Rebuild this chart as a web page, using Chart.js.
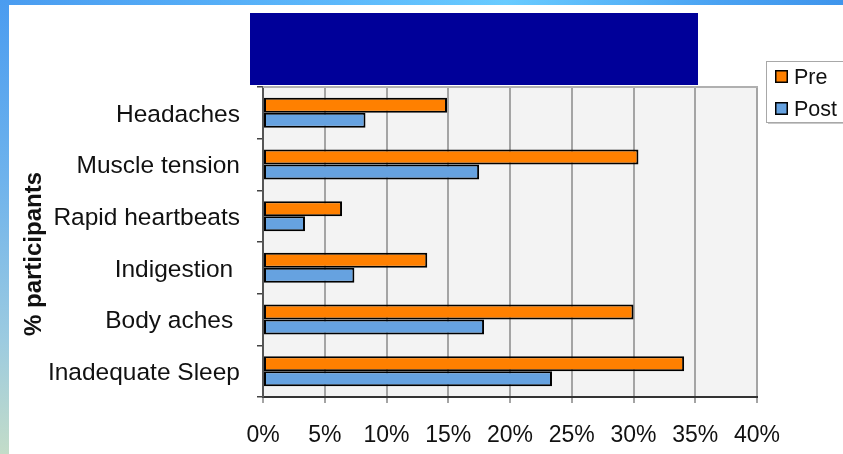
<!DOCTYPE html>
<html>
<head>
<meta charset="utf-8">
<script src="https://cdn.jsdelivr.net/npm/chart.js@4/dist/chart.umd.min.js"></script>
<style>
  html, body { margin: 0; padding: 0; background: #fff; }
  #stage { position: relative; width: 843px; height: 454px; overflow: hidden; background: #fff; }
  #topband { position: absolute; left: 0; top: 0; width: 843px; height: 5px;
    background: linear-gradient(90deg, #4a9cf0 0%, #5cb8fb 40%, #68cbff 60%, #4aa2f2 85%, #3f95ec 100%); }
  #leftband { position: absolute; left: 0; top: 0; width: 9px; height: 454px;
    background: linear-gradient(180deg, #4a9cf0 0%, #6fb3ec 40%, #9ccbe0 75%, #c3dcc8 100%); }
  #banner { position: absolute; left: 250px; top: 13px; width: 448px; height: 72px; background: #000099; }
  #chart { position: absolute; left: 0; top: 0; }
</style>
</head>
<body>
<div id="stage">
  <div id="topband"></div>
  <div id="leftband"></div>
  <div id="banner"></div>
  <canvas id="chart" width="843" height="454"></canvas>
</div>
<script>
// Symptoms reported, share of participants before and after the programme
const categories = ['Headaches', 'Muscle tension', 'Rapid heartbeats', 'Indigestion ', 'Body aches ', 'Inadequate Sleep'];
const preValues  = [14.9, 30.4, 6.4, 13.3, 30.0, 34.1];
const postValues = [8.3, 17.5, 3.4, 7.4, 17.9, 23.4];
const seriesNames = ['Pre', 'Post'];
const yAxisTitle = '% participants';
const xTickStep = 5;
const xMax = 40;

const FONT = '"Liberation Sans", Arial, Helvetica, sans-serif';
const PRE_COLOR = '#ff8000';
const POST_COLOR = '#66a2e0';

// Grey plot background, top border, rotated axis title and boxed legend
const plotFrame = {
  id: 'plotFrame',
  beforeDraw(chart) {
    const { ctx, chartArea: a } = chart;
    ctx.save();
    ctx.fillStyle = '#f3f3f3';
    ctx.fillRect(a.left, a.top, a.right - a.left, a.bottom - a.top);
    ctx.restore();
  },
  afterDraw(chart) {
    const { ctx, chartArea: a } = chart;
    ctx.save();
    ctx.strokeStyle = '#b0b0b0';
    ctx.lineWidth = 2;
    ctx.beginPath();
    ctx.moveTo(a.left, a.top);
    ctx.lineTo(a.right + 1, a.top);
    ctx.stroke();

    // axis title, set a little below the plot's middle
    ctx.save();
    ctx.translate(34, 254);
    ctx.rotate(-Math.PI / 2);
    ctx.fillStyle = '#111';
    ctx.font = 'bold 24px ' + FONT;
    ctx.textAlign = 'center';
    ctx.textBaseline = 'middle';
    ctx.fillText(yAxisTitle, 0, 0);
    ctx.restore();

    // legend box
    const lx = 766, ly = 61, lw = 90, lh = 61;
    ctx.fillStyle = '#c8c8c8';
    ctx.fillRect(lx + 2, ly + 2, lw, lh);
    ctx.fillStyle = '#ffffff';
    ctx.fillRect(lx, ly, lw, lh);
    ctx.strokeStyle = '#a8a8a8';
    ctx.lineWidth = 1;
    ctx.strokeRect(lx + 0.5, ly + 0.5, lw, lh);

    chart.data.datasets.forEach((ds, i) => {
      const sy = 70 + i * 32;
      ctx.fillStyle = ds.backgroundColor;
      ctx.fillRect(775, sy, 13, 13);
      ctx.strokeStyle = '#000';
      ctx.lineWidth = 1.5;
      ctx.strokeRect(775.75, sy + 0.75, 11.5, 11.5);
      ctx.fillStyle = '#111';
      ctx.font = '21.5px ' + FONT;
      ctx.textBaseline = 'middle';
      ctx.textAlign = 'left';
      ctx.fillText(ds.label, 794, sy + 8);
    });
    ctx.restore();
  }
};

new Chart(document.getElementById('chart'), {
  type: 'bar',
  data: {
    labels: categories,
    datasets: [
      { label: seriesNames[0], data: preValues, backgroundColor: PRE_COLOR,
        borderColor: '#000', borderWidth: 2, borderSkipped: false },
      { label: seriesNames[1], data: postValues, backgroundColor: POST_COLOR,
        borderColor: '#000', borderWidth: 2, borderSkipped: false }
    ]
  },
  options: {
    indexAxis: 'y',
    responsive: false,
    animation: false,
    devicePixelRatio: 1,
    categoryPercentage: 0.58,
    barPercentage: 1.0,
    layout: { padding: { top: 87, right: 86, left: 16, bottom: 0 } },
    plugins: {
      legend: { display: false },
      title: { display: false },
      tooltip: { enabled: false }
    },
    scales: {
      x: {
        min: 0,
        max: xMax,
        ticks: {
          stepSize: xTickStep,
          color: '#111',
          padding: 19,
          font: { family: FONT, size: 23 },
          callback: (v) => v + '%'
        },
        grid: { color: '#a4a4a4', lineWidth: 2, tickLength: 6, drawTicks: true },
        border: { display: true, color: '#333', width: 2 },
        afterFit: (scale) => { scale.height = 57; }
      },
      y: {
        offset: true,
        ticks: {
          color: '#111',
          padding: 17,
          labelOffset: 2,
          font: { family: FONT, size: 24.5 }
        },
        grid: { offset: true, drawOnChartArea: false, drawTicks: true, tickLength: 6, color: '#444', lineWidth: 1.5 },
        border: { display: true, color: '#555', width: 2 },
        afterFit: (scale) => { scale.width = 247; }
      }
    }
  },
  plugins: [plotFrame]
});
</script>
</body>
</html>
